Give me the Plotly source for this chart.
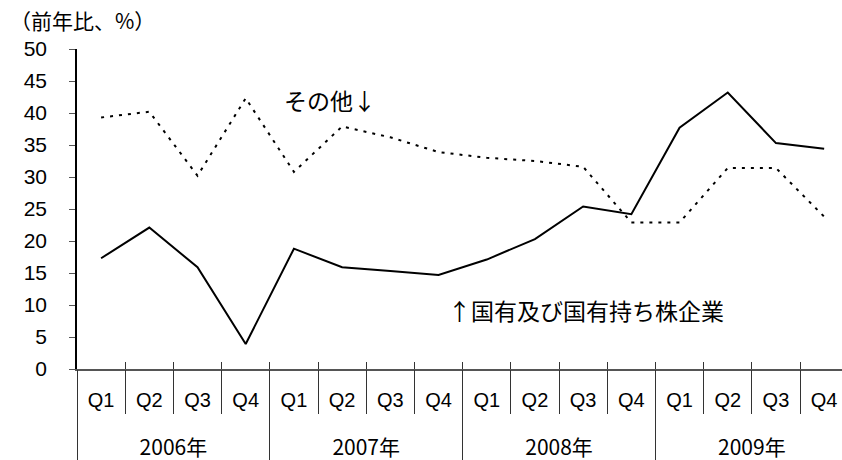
import plotly.graph_objects as go

years = ["2006年", "2007年", "2008年", "2009年"]
quarters = ["Q1", "Q2", "Q3", "Q4"]
soe = [17.3, 22.1, 15.9, 3.9, 18.8, 15.9, 15.3, 14.7,
       17.1, 20.3, 25.4, 24.2, 37.7, 43.2, 35.3, 34.4]
other = [39.3, 40.2, 30.2, 42.3, 30.8, 37.9, 36.2, 33.9,
         33.0, 32.5, 31.6, 22.9, 22.9, 31.4, 31.4, 23.8]
y_ticks = list(range(0, 51, 5))

x_year = [y for y in years for _ in quarters]
x_q = [q for _ in years for q in quarters]
nq = len(quarters)
n = len(x_q)
idx = list(range(n))
xr = [-0.5, n - 0.63]

font_num = "Liberation Sans, Arial, sans-serif"
font_jp = "Noto Sans CJK JP, sans-serif"

fig = go.Figure()
fig.add_trace(go.Scatter(x=[x_year, x_q], y=other, mode="lines",
                         line=dict(color="black", width=2, dash="3px,6px"),
                         name="その他"))
fig.add_trace(go.Scatter(x=[x_year, x_q], y=soe, mode="lines",
                         line=dict(color="black", width=2),
                         name="国有及び国有持ち株企業"))
# helper (empty) traces so the overlay label/separator axes are drawn
for ax in ["x2", "x3", "x4", "x5"]:
    fig.add_trace(go.Scatter(x=idx, y=[None] * n, xaxis=ax, yaxis="y",
                             mode="lines", hoverinfo="skip", showlegend=False))

common = dict(overlaying="x", anchor="y", side="bottom", range=xr,
              showgrid=False, zeroline=False, showline=False, automargin=False)

fig.update_layout(
    width=842, height=460,
    margin=dict(l=77, r=0, t=49, b=91),
    plot_bgcolor="white", paper_bgcolor="white",
    showlegend=False,
    font=dict(family=font_num, size=18, color="black"),
    xaxis=dict(type="multicategory", range=xr, automargin=False,
               showline=True, linecolor="#555", linewidth=1.5,
               ticks="", showticklabels=False, showdividers=False,
               showgrid=False, zeroline=False),
    # quarter labels
    xaxis2=dict(common, type="linear", tickmode="array",
                tickvals=idx, ticktext=x_q, ticks="",
                ticklabelstandoff=17,
                tickfont=dict(family=font_num, size=20)),
    # year labels
    xaxis3=dict(common, type="linear", tickmode="array",
                tickvals=[i * nq + (nq - 1) / 2 for i in range(len(years))],
                ticktext=years, ticks="",
                ticklabelstandoff=64,
                tickfont=dict(family=font_jp, size=21)),
    # separators below axis
    xaxis4=dict(common, type="linear", tickmode="linear", tick0=-0.5, dtick=nq,
                ticks="outside", ticklen=91, tickcolor="#333", tickwidth=1,
                showticklabels=False,
                minor=dict(tickmode="linear", tick0=-0.5, dtick=1, ticks="outside",
                           ticklen=44, tickcolor="#333", tickwidth=1)),
    # short stubs above axis
    xaxis5=dict(common, type="linear", tickmode="linear", tick0=-0.5, dtick=1,
                ticks="inside", ticklen=7, tickcolor="#333", tickwidth=1,
                showticklabels=False),
    yaxis=dict(range=[0, 50], tickvals=y_ticks, showline=True, automargin=False,
               linecolor="black", linewidth=1.5, ticks="outside",
               ticklen=6, tickcolor="#555", showgrid=False, zeroline=False,
               ticklabelstandoff=18,
               tickfont=dict(family=font_num, size=21)),
    annotations=[
        dict(text="（前年比、%）", xref="paper", yref="paper", x=-0.09, y=1.038,
             xanchor="left", yanchor="bottom", showarrow=False,
             font=dict(family=font_jp, size=21)),
        dict(text="その他↓", xref="paper", yref="y", x=0.268, y=42.0,
             xanchor="left", yanchor="middle", showarrow=False,
             font=dict(family=font_jp, size=23)),
        dict(text="↑国有及び国有持ち株企業", xref="paper", yref="y", x=0.483, y=9.2,
             xanchor="left", yanchor="middle", showarrow=False,
             font=dict(family=font_jp, size=23)),
    ],
)

fig.write_html("out.html", config={"displayModeBar": False},
               post_script="document.body.style.margin='0';")
